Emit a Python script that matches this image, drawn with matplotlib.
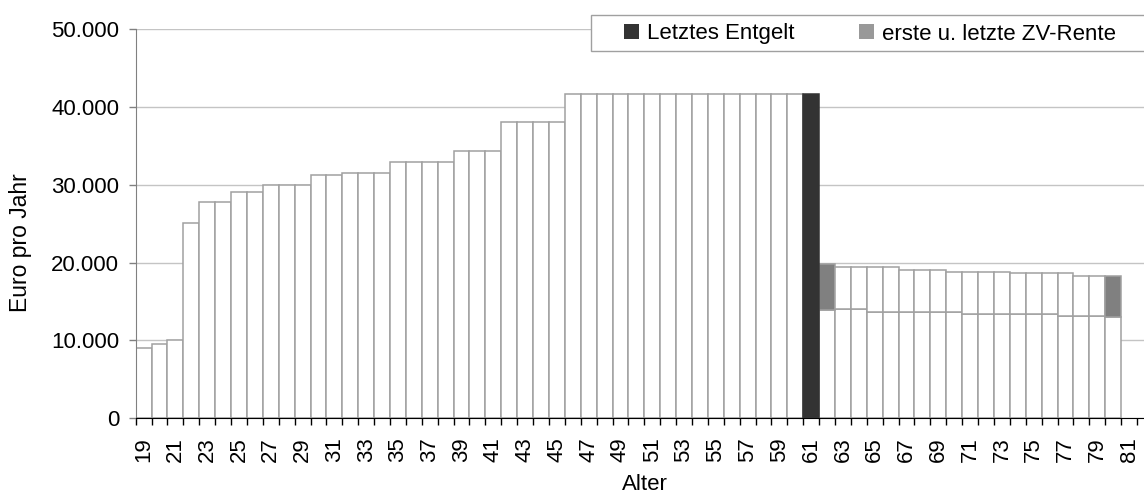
import numpy as np
import matplotlib
matplotlib.use("Agg")
import matplotlib.pyplot as plt
from matplotlib.patches import Patch, Rectangle
from matplotlib.ticker import FuncFormatter

plt.rcParams['font.family'] = ['Liberation Sans', 'DejaVu Sans']

# Ages shown on the x axis
ages = list(range(19, 82))

# Annual gross pay during working life, ages 19-60
entgelt = [9000, 9500, 10000, 25100, 27800, 27800, 29100, 29100,
           30000, 30000, 30000, 31300, 31300, 31550, 31550, 31550,
           32900, 32900, 32900, 32900, 34300, 34300, 34300,
           38100, 38100, 38100, 38100] + [41600] * 15
# Last pay, age 61
letztes_entgelt = 41600

# Pension years, ages 62-80: base pension and supplementary pension (ZV-Rente)
rente_alter = list(range(62, 81))
grundrente = [13900, 14000, 14000, 13700, 13700, 13700, 13700, 13700, 13700,
              13400, 13400, 13400, 13400, 13400, 13400, 13200, 13200, 13200, 13000]
zv_rente = [5900, 5400, 5400, 5700, 5700, 5400, 5400, 5400, 5150,
            5450, 5450, 5450, 5200, 5200, 5200, 5400, 5100, 5100, 5300]

W, H = 1144, 496
fig = plt.figure(figsize=(W / 100, H / 100), dpi=100)
x0, x1, y0, y1 = 135.7, 1144.0, 418.3, 29.0
ax = fig.add_axes([x0 / W, 1 - y0 / H, (x1 - x0) / W, (y0 - y1) / H])

pos = {a: i for i, a in enumerate(ages)}
edge = '#a0a0a0'
lw = 1.1

work_x = [pos[a] for a in range(19, 61)]
ax.bar(work_x, entgelt, width=1.0, color='white', edgecolor=edge, linewidth=lw, zorder=2)
ax.bar(pos[61], letztes_entgelt, width=1.0, color='#333333', edgecolor='#333333',
       linewidth=lw, zorder=3)

rx = [pos[a] for a in rente_alter]
ax.bar(rx, grundrente, width=1.0, color='white', edgecolor=edge, linewidth=lw, zorder=2)
zv_colors = ['#808080' if a in (rente_alter[0], rente_alter[-1]) else 'white'
             for a in rente_alter]
ax.bar(rx, zv_rente, bottom=grundrente, width=1.0, color=zv_colors,
       edgecolor=edge, linewidth=lw, zorder=2)

ax.set_xlim(-0.5, len(ages) - 0.5 + 0.44)
ax.set_ylim(0, 50000)
ax.set_yticks(np.arange(0, 50001, 10000))
ax.yaxis.set_major_formatter(FuncFormatter(lambda v, p: f"{int(v):,}".replace(",", ".")))

ax.set_xticks([pos[a] for a in ages[::2]])
ax.set_xticklabels([str(a) for a in ages[::2]], rotation=90)
ax.set_xticks(np.arange(-0.5, len(ages), 1.0), minor=True)
ax.tick_params(axis='x', which='major', length=0, labelsize=16, pad=13.5)
ax.tick_params(axis='x', which='minor', length=5, width=1, color='black')
ax.tick_params(axis='y', length=5, width=1, color='#808080', labelsize=16, pad=7)

ax.yaxis.grid(True, color='#c4c4c4', linewidth=1)
ax.set_axisbelow(True)
for s in ('top', 'right'):
    ax.spines[s].set_visible(False)
ax.spines['left'].set_color('#808080')
ax.spines['bottom'].set_color('black')

ax.set_ylabel('Euro pro Jahr', fontsize=16.5)
ax.yaxis.set_label_coords((32 - x0) / (x1 - x0), (y0 - 242.5) / (y0 - y1))
ax.set_xlabel('Alter', fontsize=16)
ax.xaxis.set_label_coords((644.5 - x0) / (x1 - x0), -(473.5 - y0) / (y0 - y1))

# Legend box
lx0, lx1, ly0, ly1 = 591, 1150, 15, 50.5
box = Rectangle((lx0 / W, 1 - ly1 / H), (lx1 - lx0) / W, (ly1 - ly0) / H,
                transform=fig.transFigure, facecolor='white', edgecolor='#a0a0a0',
                linewidth=1, zorder=4, clip_on=False)
ax.add_patch(box)
handles = [Patch(facecolor='#333333', edgecolor='none', label='Letztes Entgelt'),
           Patch(facecolor='#999999', edgecolor='none', label='erste u. letzte ZV-Rente')]
leg = ax.legend(handles=handles, ncol=2, frameon=False, fontsize=16,
                handlelength=0.675, handleheight=0.63, handletextpad=0.33,
                columnspacing=2.93, borderpad=0, borderaxespad=0, loc='center left',
                bbox_to_anchor=(624.3 / W, 1 - 34 / H), bbox_transform=fig.transFigure)
leg.set_zorder(5)

fig.savefig('out.png', dpi=100)
